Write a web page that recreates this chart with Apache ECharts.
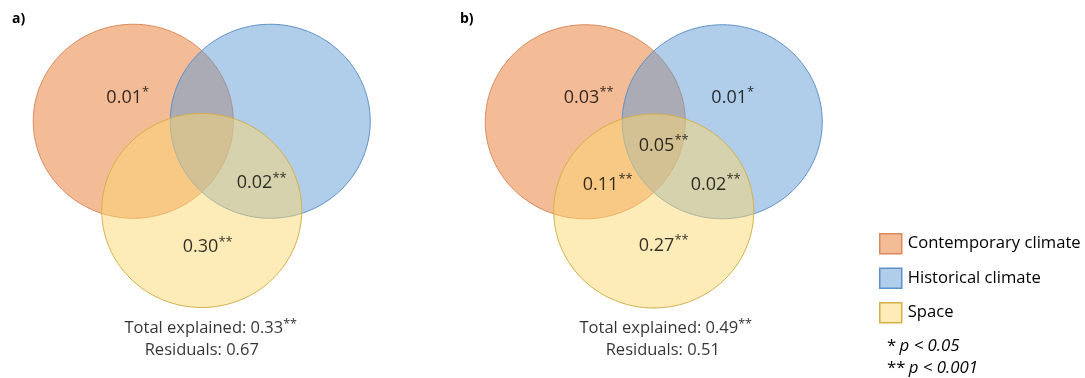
<!DOCTYPE html>
<html>
<head>
<meta charset="utf-8">
<script src="https://cdn.jsdelivr.net/npm/echarts@6/dist/echarts.min.js"></script>
<style>
  html, body { margin: 0; padding: 0; background: #ffffff; }
  #chart { width: 1085px; height: 378px; }
</style>
</head>
<body>
<div id="chart"></div>
<script>
// ---- Variance partitioning results ----
const SET_NAMES = ['Contemporary climate', 'Historical climate', 'Space'];
const REGION_KEYS = ['C', 'H', 'S', 'CH', 'CS', 'HS', 'CHS'];
const PANEL_TAGS = ['a)', 'b)'];
const VALUES_A = [0.01, null, 0.30, null, null, 0.02, null];
const SIGNIF_A = ['*', '', '**', '', '', '**', ''];
const VALUES_B = [0.03, 0.01, 0.27, null, 0.11, 0.02, 0.05];
const SIGNIF_B = ['**', '*', '**', '', '**', '**', '**'];
const TOTAL_EXPLAINED = [0.33, 0.49];
const TOTAL_SIGNIF = ['**', '**'];
const RESIDUALS = [0.67, 0.51];
const P_MARKS = ['*', '**'];
const P_THRESHOLDS = ['0.05', '0.001'];

// ---- Diagram layout (in axis units, circle radius = 1) ----
const CIRCLE_CENTERS = [[-0.685, 0.92], [0.685, 0.92], [0, 0]];
const RADIUS = 1;
const LABEL_ANCHORS = [
  { C: [-0.74, 1.16], S: [0.06, -0.38], HS: [0.60, 0.28] },
  { C: [-0.65, 1.17], H: [0.79, 1.17], S: [0.10, -0.36], CS: [-0.46, 0.27], HS: [0.62, 0.27], CHS: [0.10, 0.675] }
];
const SUMMARY_ANCHORS = [
  [[0.09, -1.21], [0.00, -1.44]],
  [[0.12, -1.21], [0.09, -1.44]]
];

// ---- Styles ----
const FONT = '"Open Sans", Lato, sans-serif';
const TEXT_COLOR = '#000000';
const FILLS = ['rgba(233,119,47,0.5)', 'rgba(97,155,211,0.5)', 'rgba(251,215,113,0.5)'];
const STROKES = ['#D98A5C', '#5E90C8', '#D4B04A'];

const panels = [
  { values: VALUES_A, signif: SIGNIF_A },
  { values: VALUES_B, signif: SIGNIF_B }
];

const chart = echarts.init(document.getElementById('chart'));

const grids = [
  { left: 1.75, top: 16.5, width: 400, height: 339.5 },
  { left: 453.75, top: 17, width: 400, height: 339.5 }
];
const xAxes = grids.map((g, i) => ({ type: 'value', gridIndex: i, min: -2, max: 2, show: false }));
const yAxes = grids.map((g, i) => ({ type: 'value', gridIndex: i, min: -1.5, max: 2, show: false }));

function circleRenderer(setIdx) {
  return function (params, api) {
    const cx = api.value(0), cy = api.value(1), r = api.value(2);
    const pts = [];
    for (let k = 0; k < 240; k++) {
      const a = (2 * Math.PI * k) / 240;
      pts.push(api.coord([cx + r * Math.cos(a), cy + r * Math.sin(a)]));
    }
    return {
      type: 'polygon',
      shape: { points: pts },
      style: { fill: FILLS[setIdx], stroke: STROKES[setIdx], lineWidth: 1 }
    };
  };
}

const richStyles = {
  v: { fontSize: 18, fontFamily: FONT, fontWeight: 500, color: TEXT_COLOR, lineHeight: 24 },
  s: { fontSize: 13, fontFamily: FONT, fontWeight: 500, color: TEXT_COLOR, lineHeight: 14, verticalAlign: 'top' },
  t: { fontSize: 16.5, fontFamily: FONT, fontWeight: 500, color: TEXT_COLOR, lineHeight: 20 },
  ts: { fontSize: 12.5, fontFamily: FONT, fontWeight: 500, color: TEXT_COLOR, lineHeight: 12, verticalAlign: 'top' }
};

const series = [];
panels.forEach((panel, p) => {
  // set circles
  SET_NAMES.forEach((name, i) => {
    series.push({
      name: name,
      type: 'custom',
      xAxisIndex: p,
      yAxisIndex: p,
      silent: true,
      z: 2 + i,
      itemStyle: { color: FILLS[i], borderColor: STROKES[i], borderWidth: 1 },
      data: [[CIRCLE_CENTERS[i][0], CIRCLE_CENTERS[i][1], RADIUS]],
      renderItem: circleRenderer(i)
    });
  });

  // region values and summary lines
  const labelData = [];
  REGION_KEYS.forEach((key, r) => {
    const v = panel.values[r];
    if (v === null) return;
    const pos = LABEL_ANCHORS[p][key];
    labelData.push({
      value: pos,
      label: { formatter: '{v|' + v.toFixed(2) + '}{s|' + panel.signif[r] + '}' }
    });
  });
  labelData.push({
    value: SUMMARY_ANCHORS[p][0],
    label: { formatter: '{t|Total explained: ' + TOTAL_EXPLAINED[p].toFixed(2) + '}{ts|' + TOTAL_SIGNIF[p] + '}' }
  });
  labelData.push({
    value: SUMMARY_ANCHORS[p][1],
    label: { formatter: '{t|Residuals: ' + RESIDUALS[p].toFixed(2) + '}' }
  });
  series.push({
    type: 'scatter',
    xAxisIndex: p,
    yAxisIndex: p,
    silent: true,
    z: 10,
    symbolSize: 1,
    itemStyle: { color: 'transparent' },
    label: {
      show: true, position: 'inside', align: 'center', verticalAlign: 'middle',
      color: TEXT_COLOR, rich: richStyles
    },
    data: labelData
  });
});

const graphics = [];
PANEL_TAGS.forEach((tag, p) => {
  graphics.push({
    type: 'text',
    left: p === 0 ? 12 : 460,
    top: 12,
    style: { text: tag, font: 'bold 14px ' + FONT, fill: '#000' }
  });
});
P_MARKS.forEach((mark, i) => {
  graphics.push({
    type: 'text',
    left: 887,
    top: 338 + i * 22,
    style: {
      text: '{m|' + mark + '} {i|p < ' + P_THRESHOLDS[i] + '}',
      rich: {
        m: { fontSize: 16.8, fontFamily: FONT, fontWeight: 500, fill: TEXT_COLOR },
        i: { fontSize: 16.8, fontFamily: FONT, fontWeight: 500, fontStyle: 'italic', fill: TEXT_COLOR }
      }
    }
  });
});

chart.setOption({
  animation: false,
  backgroundColor: '#ffffff',
  grid: grids,
  xAxis: xAxes,
  yAxis: yAxes,
  legend: {
    orient: 'vertical',
    left: 879,
    top: 233,
    padding: 0,
    itemWidth: 22,
    itemHeight: 20,
    itemGap: 13,
    icon: 'rect',
    selectedMode: false,
    textStyle: { fontSize: 16.6, fontFamily: FONT, fontWeight: 500, color: TEXT_COLOR, padding: [0, 0, 0, 1] },
    data: SET_NAMES.map((name, i) => ({
      name: name,
      itemStyle: { color: FILLS[i], borderColor: STROKES[i], borderWidth: 1.5 }
    }))
  },
  graphic: graphics,
  series: series
});
</script>
</body>
</html>
